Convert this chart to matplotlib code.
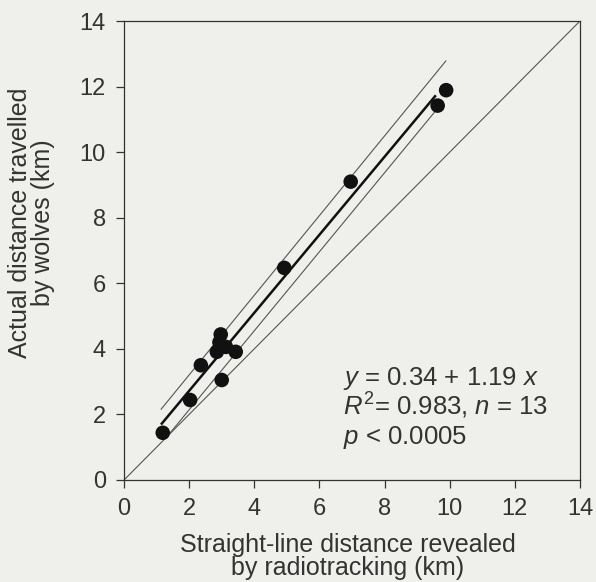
import matplotlib
matplotlib.use('Agg')
import matplotlib.pyplot as plt

plt.rcParams['font.family'] = ['Liberation Sans', 'DejaVu Sans']
plt.rcParams['mathtext.fontset'] = 'custom'
plt.rcParams['mathtext.rm'] = 'Liberation Sans'
plt.rcParams['mathtext.it'] = 'Liberation Sans:italic'

# straight-line distance (x) vs actual distance travelled (y), km
straight_km = [1.19, 2.03, 2.36, 3.0, 2.97, 2.93, 2.85, 3.13, 3.43, 4.92, 6.96, 9.63, 9.89]
actual_km = [1.44, 2.44, 3.5, 3.05, 4.44, 4.2, 3.91, 4.06, 3.91, 6.47, 9.1, 11.42, 11.89]

# regression y = 0.34 + 1.19 x and the two thin flanking lines
fit_x = [1.16, 9.55]
fit_y = [0.34 + 1.19 * v for v in fit_x]
upper_x = [1.14, 9.88]
upper_y = [2.16, 12.78]
lower_x = [1.36, 9.6]
lower_y = [1.37, 11.3]
ident = [0, 14]

ticks = [0, 2, 4, 6, 8, 10, 12, 14]

bg = '#efefeb'
ink = '#333333'

fig = plt.figure(figsize=(5.96, 5.82), dpi=100, facecolor=bg)
ax = fig.add_axes([124 / 596, 102 / 582, 456 / 596, 459 / 582], facecolor=bg)

ax.plot(ident, ident, color='#555555', lw=0.8)
ax.plot(upper_x, upper_y, color='#555555', lw=0.8)
ax.plot(lower_x, lower_y, color='#555555', lw=0.8)
ax.plot(fit_x, fit_y, color='#111111', lw=1.8)
ax.scatter(straight_km, actual_km, s=110, color='#111111', edgecolors='none', zorder=3)

ax.set_xlim(0, 14)
ax.set_ylim(0, 14)
ax.set_xticks(ticks)
ax.set_yticks(ticks)
ax.tick_params(direction='out', length=6, width=0.9, color=ink, labelcolor=ink,
               labelsize=17, pad=7)
for sp in ax.spines.values():
    sp.set_color(ink)
    sp.set_linewidth(0.9)

ax.set_xlabel('Straight-line distance revealed\nby radiotracking (km)', fontsize=18,
              color=ink, linespacing=0.95)
ax.xaxis.set_label_coords(0.491, -0.115)
ax.set_ylabel('Actual distance travelled\nby wolves (km)', fontsize=18,
              color=ink, linespacing=0.95)
ax.yaxis.set_label_coords(-0.152, 0.56)

txt = dict(fontsize=18.5, color=ink, ha='left', va='baseline')
ax.text(6.72, 2.9, r'$\it{y}$ = 0.34 + 1.19 $\it{x}$', **txt)
ax.text(6.72, 1.98, r'$\it{R}^{2}$= 0.983, $\it{n}$ = 13', **txt)
ax.text(6.72, 1.1, r'$\it{p}$ < 0.0005', **txt)

fig.savefig('out.png', dpi=100, facecolor=bg)
